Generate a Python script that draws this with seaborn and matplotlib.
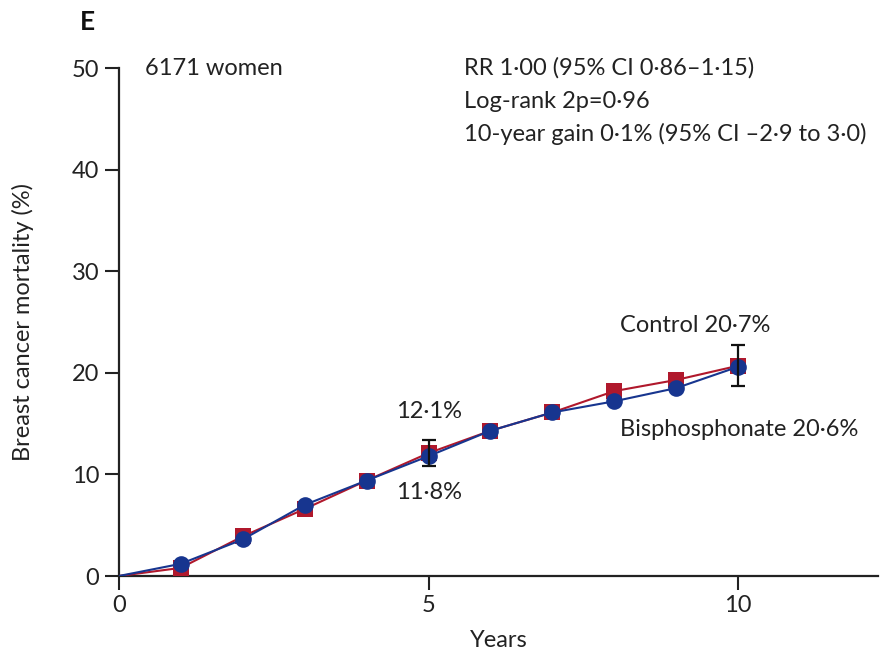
import matplotlib
matplotlib.use("Agg")
import matplotlib.pyplot as plt
import seaborn as sns
import pandas as pd

# Cumulative breast cancer mortality (%) by year of follow-up
years = [0, 1, 2, 3, 4, 5, 6, 7, 8, 9, 10]
control = [0.0, 0.8, 3.9, 6.6, 9.4, 12.1, 14.3, 16.1, 18.2, 19.3, 20.7]
bisphosphonate = [0.0, 1.2, 3.6, 7.0, 9.4, 11.8, 14.3, 16.1, 17.2, 18.5, 20.6]

# 95% CI half-widths shown at 5 and 10 years
ci_years = [5, 10]
ci_centre = [12.1, 20.7]
ci_half = [1.3, 2.0]

x_ticks = [0, 5, 10]
y_ticks = [0, 10, 20, 30, 40, 50]

sns.set_style("ticks")
plt.rcParams["font.family"] = ["Lato", "DejaVu Sans"]

df = pd.DataFrame({
    "Years": years * 2,
    "Mortality": control + bisphosphonate,
    "Group": ["Control"] * len(years) + ["Bisphosphonate"] * len(years),
})

red = "#b0182c"
blue = "#17358f"
ink = "#222222"

fig = plt.figure(figsize=(8.8, 6.58), dpi=100)
ax = fig.add_axes([0.135, 0.1246, 0.863, 0.772])

# markers only after baseline (no marker at the origin)
marked = list(range(1, len(years)))
sns.lineplot(data=df[df.Group == "Control"], x="Years", y="Mortality",
             color=red, marker="s", markersize=11, markeredgewidth=0,
             linewidth=1.5, markevery=marked, ax=ax, zorder=3)
sns.lineplot(data=df[df.Group == "Bisphosphonate"], x="Years", y="Mortality",
             color=blue, marker="o", markersize=12, markeredgewidth=0,
             linewidth=1.5, markevery=marked, ax=ax, zorder=3)

ax.errorbar(ci_years, ci_centre, yerr=ci_half, fmt="none", ecolor="#111111",
            elinewidth=1.6, capsize=5, capthick=1.6, zorder=4)

ax.set_xlim(0, 12.26)
ax.set_ylim(0, 50)
ax.set_xticks(x_ticks)
ax.set_yticks(y_ticks)
ax.tick_params(axis="both", direction="out", length=10, width=1.5,
               labelsize=17, colors=ink, pad=4)
for side in ("top", "right"):
    ax.spines[side].set_visible(False)
for side in ("left", "bottom"):
    ax.spines[side].set_linewidth(1.6)
    ax.spines[side].set_color(ink)

ax.set_xlabel("Years", fontsize=17, color=ink, labelpad=10)
ax.set_ylabel("Breast cancer mortality (%)", fontsize=17, color=ink, labelpad=27)

fig.text(0.091, 0.966, "E", fontsize=19, fontweight="bold", ha="left", va="center",
         color="#111111")
ax.text(0.035, 1.0, "6171 women", transform=ax.transAxes, fontsize=17,
        ha="left", va="center", color=ink)
stats = ["RR 1·00 (95% CI 0·86–1·15)",
         "Log-rank 2p=0·96",
         "10-year gain 0·1% (95% CI –2·9 to 3·0)"]
for i, s in enumerate(stats):
    ax.text(0.455, 1.0 - i * 0.065, s, transform=ax.transAxes, fontsize=17,
            ha="left", va="center", color=ink)

ax.annotate("12·1%", (5, 13.4), xytext=(0, 13), textcoords="offset points",
            ha="center", va="bottom", fontsize=17, color=ink)
ax.annotate("11·8%", (5, 10.8), xytext=(0, -11), textcoords="offset points",
            ha="center", va="top", fontsize=17, color=ink)
ax.annotate("Control 20·7%", (10, 22.7), xytext=(-31, 7), textcoords="offset points",
            ha="center", va="bottom", fontsize=17, color=ink)
ax.annotate("Bisphosphonate 20·6%", (10, 18.7), xytext=(-85, -24), textcoords="offset points",
            ha="left", va="top", fontsize=17, color=ink)

fig.savefig("out.png", dpi=100)
